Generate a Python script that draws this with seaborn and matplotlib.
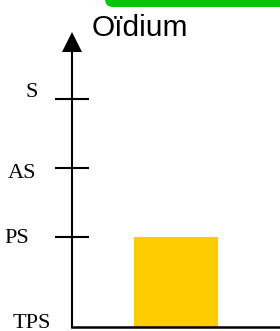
import matplotlib
matplotlib.use("Agg")
import matplotlib.pyplot as plt
import matplotlib.transforms as mtransforms
from matplotlib.patches import FancyBboxPatch
import seaborn as sns

# qualitative severity scale, bottom to top
levels = ["TPS", "PS", "AS", "S"]
level_pos = [0, 1.3, 2.3, 3.3]

disease = ["Oïdium"]
severity = ["PS"]
heights = [level_pos[levels.index(s)] for s in severity]

# label placement relative to (axis, level), in pixels
label_dx = [-40.5, -55, -49.5, -40]
label_dy = [-1, -6, -10, 2]

sns.set_style("white")

fig = plt.figure(figsize=(2.8, 3.31), dpi=100)
ax = fig.add_axes([72 / 280, 4 / 331, 208 / 280, 285 / 331])

sns.barplot(
    x=disease,
    y=heights,
    color="#ffcc00",
    saturation=1,
    width=0.4,
    linewidth=0,
    ax=ax
)

ax.set_xlim(-0.5, 0.5)
ax.set_ylim(0, 285 / 69)

ax.set_xticks([])
ax.set_yticks(level_pos[1:])
ax.set_yticklabels([])
ax.tick_params(axis="y", direction="inout", length=25, width=1.5,
               color="black", left=True)

for side in ["top", "right"]:
    ax.spines[side].set_visible(False)
ax.spines["left"].set_linewidth(1.5)
ax.spines["left"].set_color("black")
ax.spines["bottom"].set_linewidth(1.8)
ax.spines["bottom"].set_color("black")

# arrow head on the y axis
ax.plot(0, 1, marker="^", ms=14.5, mew=0, color="black",
        transform=ax.transAxes, clip_on=False)

for lab, pos, dx, dy in zip(levels, level_pos, label_dx, label_dy):
    ax.annotate(
        lab,
        xy=(0, pos),
        xycoords=("axes fraction", "data"),
        xytext=(dx, dy),
        textcoords="offset pixels",
        ha="center",
        va="baseline",
        fontsize=16,
        color="black",
        family=["Liberation Serif", "DejaVu Serif"],
        annotation_clip=False
    )

fig.text(92 / 280, (331 - 36.5) / 331, disease[0], fontsize=21.5,
         family=["Liberation Sans", "DejaVu Sans"],
         color="black", ha="left", va="baseline")

# green tab at the top edge
tab = FancyBboxPatch(
    (105, 324), 300, 60,
    boxstyle="round,pad=0,rounding_size=8",
    facecolor="#00c800",
    edgecolor="none",
    transform=mtransforms.IdentityTransform()
)
fig.add_artist(tab)

plt.savefig("out.png", dpi=100)
